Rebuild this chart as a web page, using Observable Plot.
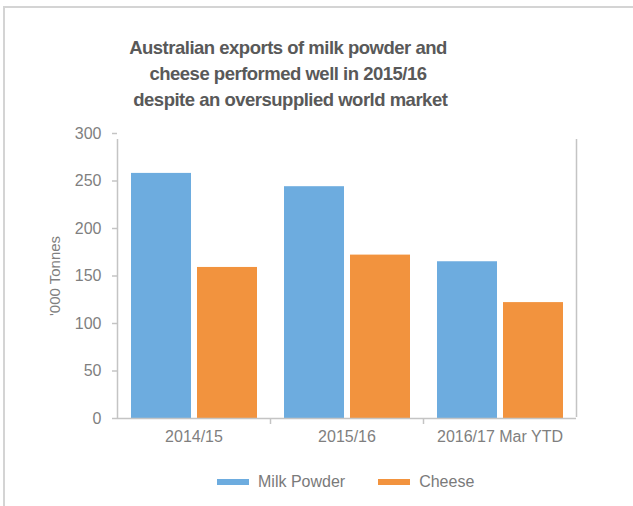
<!DOCTYPE html>
<html>
<head>
<meta charset="utf-8">
<script src="https://cdn.jsdelivr.net/npm/d3@7"></script>
<script src="https://cdn.jsdelivr.net/npm/@observablehq/plot@0.6"></script>
<style>
  html, body { margin: 0; padding: 0; background: #fff; width: 633px; height: 506px; overflow: hidden; }
  body { font-family: "Liberation Sans", Arial, Helvetica, sans-serif; position: relative; }
  #frame { position: absolute; left: 3px; top: 6px; width: 700px; height: 600px;
           border-top: 2px solid #d4d4d4; border-left: 2px solid #d4d4d4; pointer-events: none; }
  #title { height: 120px; box-sizing: border-box; padding-top: 35px; width: 576px;
           text-align: center; font-weight: bold; font-size: 18.5px; letter-spacing: -0.5px;
           line-height: 26px; color: #595959; }
  #chart svg { display: block; }
  #legend { display: flex; align-items: center; padding-left: 217px; padding-top: 17px;
            font-size: 16px; line-height: 20px; color: #7a7a7a; }
  .sw { display: inline-block; width: 32px; height: 6px; margin-right: 9px; }
  .item { display: flex; align-items: center; margin-right: 33px; }
</style>
</head>
<body>
<div id="frame"></div>
<div id="title">Australian exports of milk powder and<br>cheese performed well in 2015/16<br>&nbsp;despite an oversupplied world market</div>
<div id="chart"></div>
<div id="legend"></div>
<script>
const categories = ["2014/15", "2015/16", "2016/17 Mar YTD"];
const seriesNames = ["Milk Powder", "Cheese"];
const milkPowder = [258, 244, 165];
const cheese = [159, 172, 122];
const yTicks = [0, 50, 100, 150, 200, 250, 300];
const colors = ["#6DACDF", "#F2933E"];

const W = 633, H = 335, ML = 117, MR = 57, MT = 13, MB = 37;
const bw = (W - ML - MR) / categories.length;
const barW = 60, gap = 6, padL = 14;

const milkData = categories.map((c, i) => ({cat: c, value: milkPowder[i], series: seriesNames[0]}));
const cheeseData = categories.map((c, i) => ({cat: c, value: cheese[i], series: seriesNames[1]}));

const axisColor = "#c4c4c4";
const textColor = "#7f7f7f";

const plot = Plot.plot({
  width: W, height: H,
  marginLeft: ML, marginRight: MR, marginTop: MT, marginBottom: MB,
  style: {fontFamily: "'Liberation Sans', Arial, sans-serif", fontSize: "16px", color: textColor, background: "#fff"},
  x: {type: "band", domain: categories, padding: 0, label: null},
  y: {domain: [0, 300], label: null},
  marks: [
    Plot.barY(milkData, {x: "cat", y: "value", fill: colors[0],
      insetLeft: padL, insetRight: bw - padL - barW}),
    Plot.barY(cheeseData, {x: "cat", y: "value", fill: colors[1],
      insetLeft: padL + barW + gap, insetRight: bw - padL - 2 * barW - gap}),
    Plot.ruleY([0], {stroke: axisColor, strokeWidth: 1.5}),
    Plot.ruleX([categories[0]], {x: d => d, y1: 0, y2: 300, dx: -bw / 2, stroke: axisColor, strokeWidth: 1.5, insetBottom: -6}),
    Plot.ruleX(categories.slice(1), {x: d => d, y1: 0, y2: 0, dx: -bw / 2, stroke: axisColor, strokeWidth: 1.5, insetBottom: -6}),
    Plot.ruleX([categories[categories.length - 1]], {x: d => d, y1: 0, y2: 300, dx: bw / 2, stroke: axisColor, strokeWidth: 1.5, insetBottom: -6, insetTop: -1}),
    Plot.axisY(yTicks, {tickSize: 5, tickPadding: 11, stroke: axisColor, strokeWidth: 1.5, fill: textColor, fontSize: 16,
      label: "'000 Tonnes", labelAnchor: "center", labelArrow: "none", labelOffset: 68}),
    Plot.axisX({tickSize: 0, tickPadding: 12, fill: textColor, fontSize: 16, label: null})
  ]
});
document.getElementById("chart").appendChild(plot);

plot.querySelectorAll("text").forEach(t => {
  if (t.textContent === "'000 Tonnes") { t.setAttribute("font-size", "15"); t.style.fontSize = "15px"; t.setAttribute("fill", textColor); }
});

const legend = document.getElementById("legend");
seriesNames.forEach((s, i) => {
  const item = document.createElement("div");
  item.className = "item";
  const sw = document.createElement("span");
  sw.className = "sw";
  sw.style.background = colors[i];
  const lab = document.createElement("span");
  lab.textContent = s;
  item.appendChild(sw);
  item.appendChild(lab);
  legend.appendChild(item);
});
</script>
</body>
</html>
